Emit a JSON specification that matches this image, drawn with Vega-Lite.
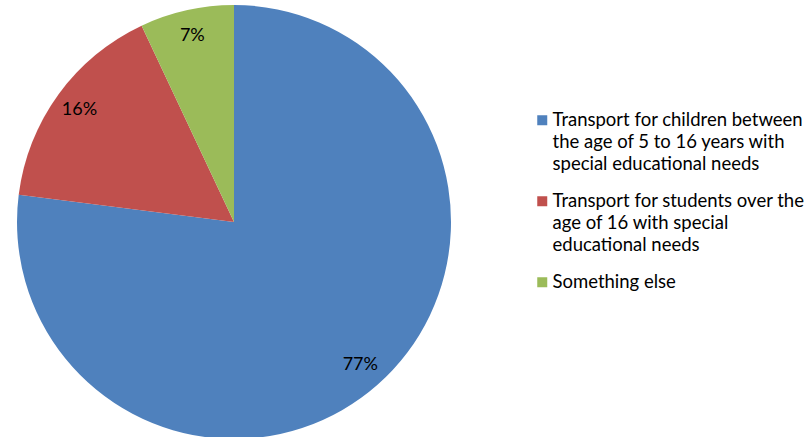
{
  "$schema": "https://vega.github.io/schema/vega-lite/v6.json",
  "width": 468,
  "height": 444,
  "padding": {"left": 0, "top": 0, "right": 340, "bottom": 0},
  "autosize": "none",
  "background": "white",
  "data": {
    "values": [
      {"category": "Transport for children between\nthe age of 5 to 16 years with\nspecial educational needs", "value": 77, "label": "77%", "rank": 1},
      {"category": "Transport for students over the\nage of 16 with special\neducational needs", "value": 16, "label": "16%", "rank": 2},
      {"category": "Something else", "value": 7, "label": "7%", "rank": 3}
    ]
  },
  "encoding": {
    "theta": {"field": "value", "type": "quantitative", "stack": true},
    "order": {"field": "rank", "type": "quantitative"}
  },
  "layer": [
    {
      "mark": {"type": "arc", "outerRadius": 217},
      "encoding": {
        "color": {
          "field": "category",
          "type": "nominal",
          "scale": {
            "domain": [
              "Transport for children between\nthe age of 5 to 16 years with\nspecial educational needs",
              "Transport for students over the\nage of 16 with special\neducational needs",
              "Something else"
            ],
            "range": ["#4F81BD", "#C0504D", "#9BBB59"]
          },
          "legend": {
            "title": null,
            "orient": "none",
            "legendX": 533,
            "legendY": 111,
            "symbolType": "square",
            "symbolSize": 100,
            "symbolStrokeWidth": 0,
            "labelFont": "Lato",
            "labelFontSize": 18.5,
            "labelColor": "#000000",
            "labelLimit": 400,
            "labelOffset": 1,
            "rowPadding": 18,
            "labelExpr": "split(datum.label, '\\n')"
          }
        }
      }
    },
    {
      "mark": {"type": "text", "radius": 191, "font": "Lato", "fontSize": 18, "color": "#000000"},
      "encoding": {
        "text": {"field": "label", "type": "nominal"}
      }
    }
  ],
  "config": {
    "view": {"stroke": null},
    "style": {"guide-label": {"lineHeight": 22}}
  }
}
